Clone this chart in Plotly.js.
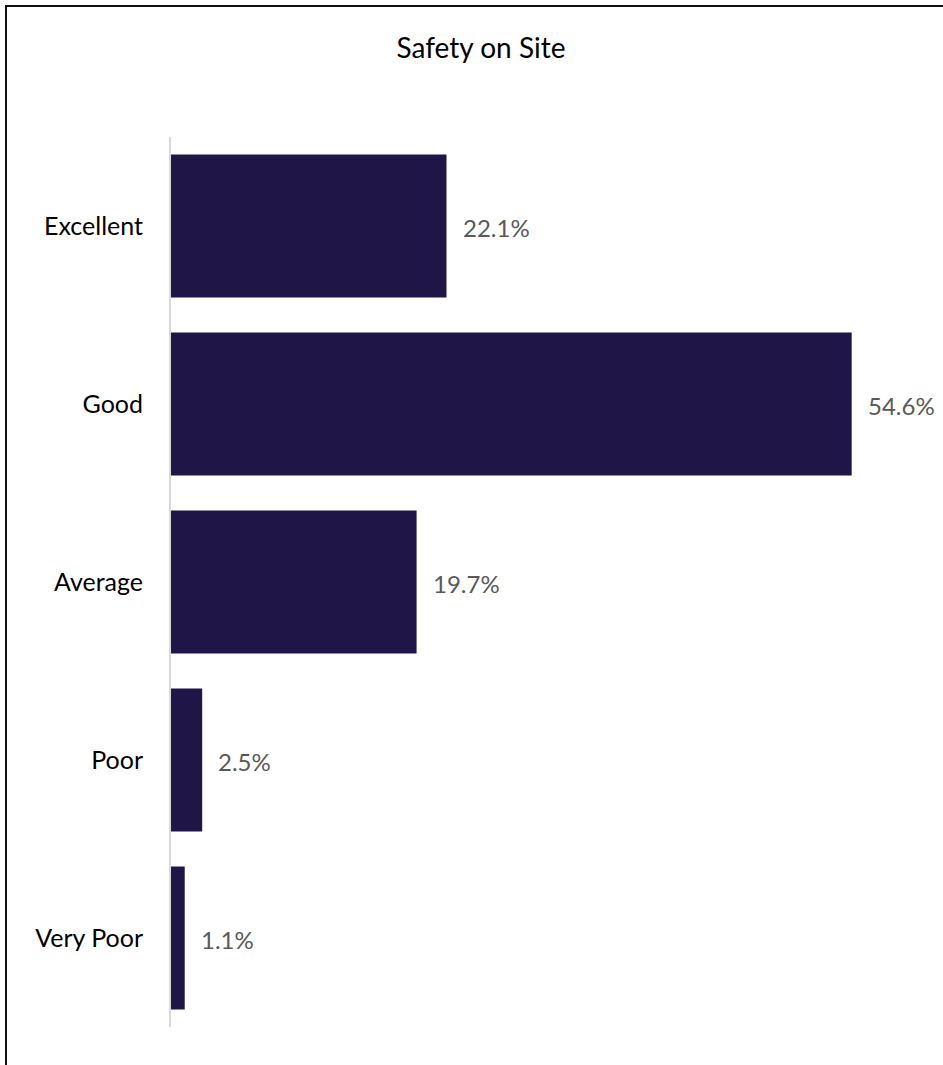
<!DOCTYPE html>
<html>
<head>
<meta charset="utf-8">
<script src="https://cdn.plot.ly/plotly-3.0.1.min.js"></script>
<style>
  html, body { margin: 0; padding: 0; background: #fff; }
  #wrap { position: relative; width: 943px; height: 1065px; overflow: hidden; }
  #chart { width: 943px; height: 1065px; }
  #frame { position: absolute; left: 5px; top: 5px; width: 1000px; height: 1100px;
           border-left: 2px solid #111; border-top: 2px solid #111; pointer-events: none; }
</style>
</head>
<body>
<div id="wrap"><div id="chart"></div><div id="frame"></div></div>
<script>
const categories = ["Excellent", "Good", "Average", "Poor", "Very Poor"];
const values = [22.1, 54.6, 19.7, 2.5, 1.1];
const valueLabels = ["22.1%", "54.6%", "19.7%", "2.5%", "1.1%"];

const FONT = "Lato, 'Open Sans', sans-serif";

const trace = {
  type: "bar",
  orientation: "h",
  x: values,
  y: categories,
  marker: { color: "#201547" },
  hoverinfo: "skip"
};

const annotations = categories.map((c, i) => ({
  x: values[i], y: c, xref: "x", yref: "y",
  text: valueLabels[i], showarrow: false,
  xanchor: "left", yanchor: "middle", xshift: 14, yshift: -1,
  font: { family: FONT, size: 24, color: "#595959" }
}));

const layout = {
  width: 943, height: 1065,
  margin: { l: 171, r: 24, t: 137, b: 38 },
  paper_bgcolor: "#fff", plot_bgcolor: "#fff",
  title: { text: "Safety on Site", x: 481 / 943, xref: "container", xanchor: "center",
           y: 1 - 48 / 1065, yanchor: "middle",
           font: { family: FONT, size: 28, color: "#000" } },
  showlegend: false,
  bargap: 0.197,
  xaxis: { range: [0, 60], visible: false, fixedrange: true },
  yaxis: {
    categoryorder: "array", categoryarray: categories, autorange: "reversed",
    showline: true, linecolor: "#d9d9d9", linewidth: 2,
    showgrid: false, zeroline: false, ticks: "", ticklabelstandoff: 21,
    tickfont: { family: FONT, size: 25, color: "#000" }
  },
  annotations: annotations
};

Plotly.newPlot("chart", [trace], layout, { displayModeBar: false, staticPlot: true });
</script>
</body>
</html>
